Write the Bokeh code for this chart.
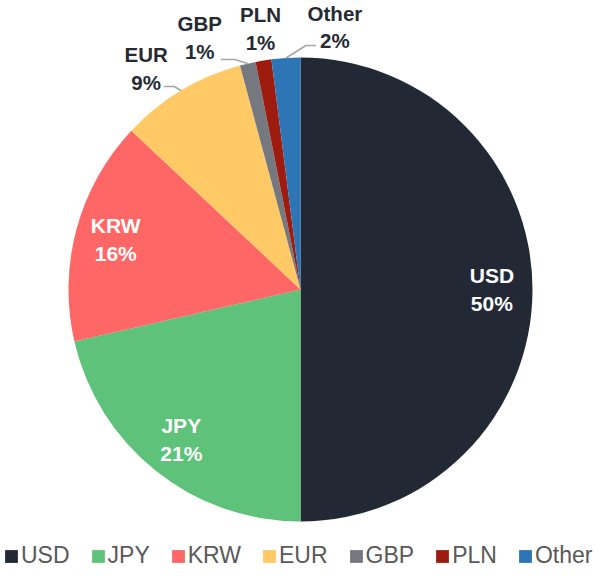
import math
from bokeh.plotting import figure
from bokeh.models import ColumnDataSource, Legend, LegendItem, Range1d
from bokeh.core.properties import value
from bokeh.embed import file_html
from bokeh.resources import INLINE

# ---- data ----
currencies = ["USD", "JPY", "KRW", "EUR", "GBP", "PLN", "Other"]
shares = [50.0, 21.4, 15.6, 8.8, 1.1, 1.1, 2.0]
colors = ["#222935", "#5EC27A", "#FF6666", "#FFC966", "#76787F", "#9E1B10", "#2E75B6"]

# ---- layout constants ----
W, H = 600, 569
CX, CY, R = 300, 280, 232
FONT = "Liberation Sans"

total = sum(shares)
starts, ends, mids = [], [], []
cum = 0.0
for s in shares:
    a0 = math.pi / 2 - 2 * math.pi * cum / total
    cum += s
    a1 = math.pi / 2 - 2 * math.pi * cum / total
    starts.append(a0)
    ends.append(a1)
    mids.append((a0 + a1) / 2)

labels = [f"{c}\n{round(s)}%" for c, s in zip(currencies, shares)]

p = figure(width=W, height=H, x_range=Range1d(0, W), y_range=Range1d(0, H),
           output_backend="svg", toolbar_location=None, min_border=0)
p.axis.visible = False
p.grid.visible = False
p.outline_line_color = None
p.background_fill_color = "white"

src = ColumnDataSource(dict(start=starts, end=ends, color=colors, name=currencies))
wr = p.wedge(x=CX, y=CY, radius=R, start_angle="start", end_angle="end",
             direction="clock", fill_color="color", line_color=None, source=src)

# inside labels (first three slices)
inside = [0, 1, 2]
rin = 0.825 * R
p.text(x=[CX + rin * math.cos(mids[i]) for i in inside],
       y=[CY + rin * math.sin(mids[i]) for i in inside],
       text=[labels[i] for i in inside],
       text_font=value(FONT), text_font_size="21px", text_font_style="bold",
       text_color="white", text_align="center", text_baseline="middle",
       text_line_height=1.2)

# outside labels: offset (px) from the slice's edge point
outside = {3: (-35, 22), 4: (-48, 26), 5: (-3, 32), 6: (49, 31)}
leaders = {3: [(-7, 4), (-17, 4)], 4: [(-13, 4), (-27, 4)], 6: [(20, 12.5), (30, 12.5)]}
ox, oy, ot = [], [], []
lxs, lys = [], []
for i, (dx, dy) in outside.items():
    ex = CX + R * math.cos(mids[i])
    ey = CY + R * math.sin(mids[i])
    ox.append(ex + dx)
    oy.append(ey + dy)
    ot.append(labels[i])
    if i in leaders:
        lxs.append([ex] + [ex + a for a, b in leaders[i]])
        lys.append([ey] + [ey + b for a, b in leaders[i]])

p.multi_line(xs=lxs, ys=lys, line_color="#A6A6A6", line_width=1.6)
p.text(x=ox, y=oy, text=ot,
       text_font=value(FONT), text_font_size="20.5px", text_font_style="bold",
       text_color="#262A33", text_align="center", text_baseline="middle",
       text_line_height=1.2)

legend = Legend(
    items=[LegendItem(label=c, renderers=[wr], index=i) for i, c in enumerate(currencies)],
    orientation="horizontal", location=(3, 0),
    label_text_font=FONT, label_text_font_size="23px", label_text_color="#595959",
    glyph_width=16, glyph_height=16, label_standoff=2, spacing=20,
    padding=0, margin=0, border_line_color=None, background_fill_alpha=0,
)
p.add_layout(legend)

open("out.html", "w").write(file_html(p, INLINE))
